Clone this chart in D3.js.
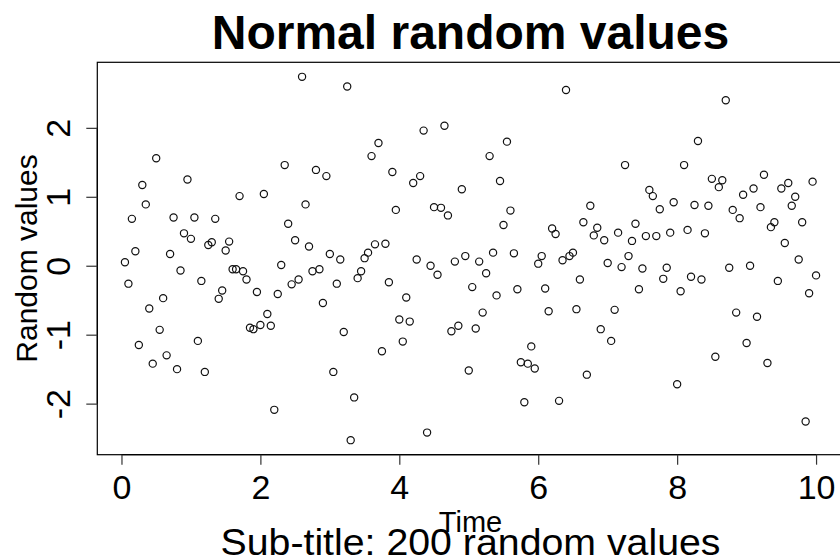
<!DOCTYPE html>
<html>
<head>
<meta charset="utf-8">
<script src="https://cdn.jsdelivr.net/npm/d3@7"></script>
<style>
  body { margin: 0; background: #fff; }
  svg { display: block; }
  text { font-family: "Liberation Sans", Arial, Helvetica, sans-serif; fill: #000; }
</style>
</head>
<body>
<svg id="chart" width="840" height="560"></svg>
<script>
// Labels and tick values
const titleText = "Normal random values";
const subTitle = "Sub-title: 200 random values";
const xLabel = "Time";
const yLabel = "Random values";
const xTicks = [0, 2, 4, 6, 8, 10];
const yTicks = [-2, -1, 0, 1, 2];

// Sampling step of the series along the time axis
const timeStep = 0.05;

// 200 random values, in time order
const values = [
   0.05, -0.26,  0.68,  0.21, -1.15,  1.17,  0.89, -0.62, -1.42,  1.56,
  -0.93, -0.47, -1.30,  0.17,  0.70, -1.50, -0.07,  0.47,  1.25,  0.39,
   0.70, -1.09, -0.22, -1.54,  0.30,  0.34,  0.68, -0.48, -0.36,  0.22,
   0.35, -0.05, -0.05,  1.01, -0.08, -0.20, -0.90, -0.92, -0.38, -0.86,
   1.04, -0.70, -0.87, -2.09, -0.41,  0.01,  1.46,  0.61, -0.27,  0.37,
  -0.20,  2.74,  0.89,  0.28, -0.08,  1.39, -0.05, -0.54,  1.30,  0.17,
  -1.54, -0.26,  0.09, -0.96,  2.60, -2.53, -1.91, -0.18, -0.08,  0.11,
   0.19,  1.59,  0.31,  1.78, -1.24,  0.32, -0.24,  1.36,  0.81, -0.78,
  -1.10, -0.46, -0.81,  1.20,  0.09,  1.30,  1.96, -2.42,  0.00,  0.85,
  -0.13,  0.84,  2.03,  0.73, -0.95,  0.06, -0.87,  1.11,  0.14, -1.52,
  -0.31, -0.91,  0.06, -0.68, -0.11,  1.59,  0.19, -0.43,  1.23,  0.59,
   1.80,  0.80,  0.18, -0.34, -1.40, -1.98, -1.42, -1.17, -1.49,  0.03,
   0.14, -0.33, -0.66,  0.54,  0.46, -1.96,  0.08,  2.55,  0.14,  0.19,
  -0.63, -0.20,  0.63, -1.58,  0.87,  0.44,  0.55, -0.92,  0.37,  0.04,
  -1.09, -0.64,  0.48, -0.02,  1.46,  0.14,  0.36,  0.61, -0.34, -0.04,
   0.43,  1.10,  1.01,  0.43,  0.82, -0.19, -0.03,  0.48,  0.92, -1.72,
  -0.37,  1.46,  0.52, -0.16,  0.88,  1.81, -0.20,  0.47,  0.87,  1.26,
  -1.32,  1.14,  1.24,  2.40, -0.03,  0.81, -0.68,  0.69,  1.03, -1.12,
   0.00,  1.12, -0.74,  0.85,  1.32, -1.41,  0.56,  0.63, -0.22,  1.12,
   0.33,  1.20,  0.87,  1.00,  0.09,  0.63, -2.26, -0.40,  1.22, -0.14
];

const points = values.map((v, i) => ({ t: (i + 1) * timeStep, v }));

// Plot frame
const frame = { left: 97.3, right: 843.7, top: 62.3, bottom: 454.7 };

// Axis ranges padded by 4% on each side
function padded(ext) {
  const p = (ext[1] - ext[0]) * 0.04;
  return [ext[0] - p, ext[1] + p];
}
const x = d3.scaleLinear()
  .domain(padded(d3.extent(points, d => d.t)))
  .range([frame.left, frame.right]);
const y = d3.scaleLinear()
  .domain(padded(d3.extent(points, d => d.v)))
  .range([frame.bottom, frame.top]);

const svg = d3.select("#chart");
const plainNumber = d => String(d);

// Box around the plot area
svg.append("rect")
  .attr("x", frame.left).attr("y", frame.top)
  .attr("width", frame.right - frame.left)
  .attr("height", frame.bottom - frame.top)
  .attr("fill", "none").attr("stroke", "#000").attr("stroke-width", 1.2);

// Bottom axis
const xAxis = d3.axisBottom(x).tickValues(xTicks).tickSize(10).tickPadding(10)
  .tickFormat(plainNumber);
const gx = svg.append("g")
  .attr("transform", `translate(0,${frame.bottom})`)
  .call(xAxis);
gx.select(".domain").attr("d", `M${x(xTicks[0])},0H${x(xTicks[xTicks.length - 1])}`)
  .attr("stroke", "#000").attr("stroke-width", 1.2);
gx.selectAll(".tick line").attr("stroke", "#333").attr("stroke-width", 1.2);
gx.selectAll(".tick text")
  .attr("font-size", 34).attr("fill", "#000")
  .style("font-family", "'Liberation Sans', Arial, sans-serif");

// Left axis with labels turned parallel to the axis
const yAxis = d3.axisLeft(y).tickValues(yTicks).tickSize(11).tickFormat(plainNumber);
const gy = svg.append("g")
  .attr("transform", `translate(${frame.left},0)`)
  .call(yAxis);
gy.select(".domain").attr("d", `M0,${y(yTicks[0])}V${y(yTicks[yTicks.length - 1])}`)
  .attr("stroke", "#000").attr("stroke-width", 1.2);
gy.selectAll(".tick line").attr("stroke", "#333").attr("stroke-width", 1.2);
gy.selectAll(".tick text")
  .attr("x", null).attr("dy", null)
  .attr("text-anchor", "middle")
  .attr("transform", "translate(-27,0) rotate(-90)")
  .attr("font-size", 34).attr("fill", "#000")
  .style("font-family", "'Liberation Sans', Arial, sans-serif");

// Points as open circles
svg.append("g")
  .selectAll("circle")
  .data(points)
  .join("circle")
  .attr("cx", d => x(d.t))
  .attr("cy", d => y(d.v))
  .attr("r", 3.6)
  .attr("fill", "none")
  .attr("stroke", "#111")
  .attr("stroke-width", 1.2);

const cx = (frame.left + frame.right) / 2;

// Title
svg.append("text")
  .attr("x", cx).attr("y", 49)
  .attr("text-anchor", "middle")
  .attr("font-size", 48).attr("font-weight", "bold")
  .text(titleText);

// Axis titles
svg.append("text")
  .attr("x", cx).attr("y", 532)
  .attr("text-anchor", "middle")
  .attr("font-size", 29)
  .text(xLabel);

svg.append("text")
  .attr("transform", `translate(37,${(frame.top + frame.bottom) / 2}) rotate(-90)`)
  .attr("text-anchor", "middle")
  .attr("font-size", 30)
  .text(yLabel);

// Sub-title
svg.append("text")
  .attr("x", cx).attr("y", 555)
  .attr("text-anchor", "middle")
  .attr("font-size", 36)
  .attr("textLength", 500)
  .attr("lengthAdjust", "spacingAndGlyphs")
  .text(subTitle);
</script>
</body>
</html>
